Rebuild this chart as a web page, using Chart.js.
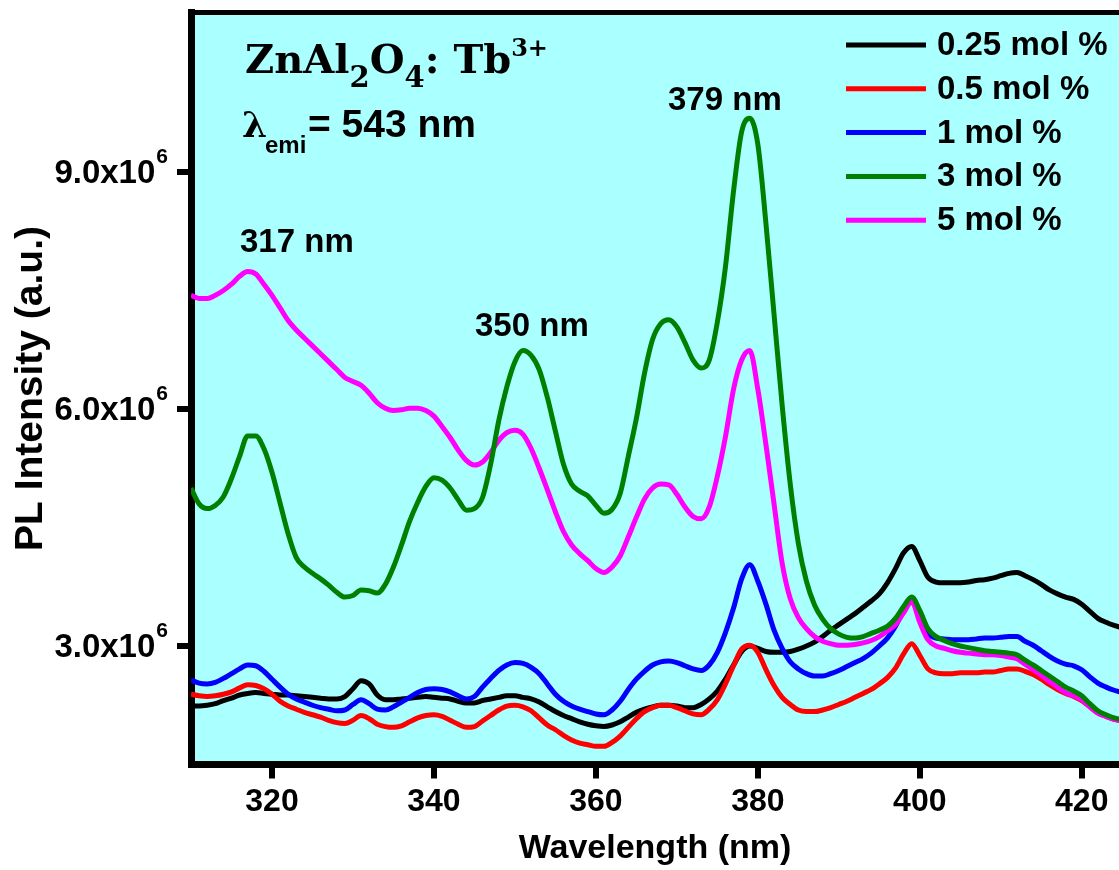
<!DOCTYPE html>
<html>
<head>
<meta charset="utf-8">
<script src="https://cdn.jsdelivr.net/npm/chart.js@4.4.0/dist/chart.umd.min.js"></script>
<style>
  html, body { margin: 0; padding: 0; background: #fff; }
</style>
</head>
<body>
<canvas id="pl-chart" width="1119" height="870"></canvas>
<script>
// PL excitation spectra, ZnAl2O4:Tb3+ (values in units of 1e6 a.u.)

const wavelength = [
  310, 311, 312, 313, 314, 315, 316, 317, 318, 319,
  320, 321, 322, 323, 324, 325, 326, 327, 328, 329,
  330, 331, 332, 333, 334, 335, 336, 337, 338, 339,
  340, 341, 342, 343, 344, 345, 346, 347, 348, 349,
  350, 351, 352, 353, 354, 355, 356, 357, 358, 359,
  360, 361, 362, 363, 364, 365, 366, 367, 368, 369,
  370, 371, 372, 373, 374, 375, 376, 377, 378, 379,
  380, 381, 382, 383, 384, 385, 386, 387, 388, 389,
  390, 391, 392, 393, 394, 395, 396, 397, 398, 399,
  400, 401, 402, 403, 404, 405, 406, 407, 408, 409,
  410, 411, 412, 413, 414, 415, 416, 417, 418, 419,
  420, 421, 422, 423, 424, 425
];

const mol025 = [
  2.24, 2.24, 2.25, 2.27, 2.31, 2.34, 2.38, 2.40, 2.41, 2.40,
  2.39, 2.38, 2.38, 2.37, 2.36, 2.35, 2.34, 2.33, 2.33, 2.36,
  2.46, 2.56, 2.52, 2.38, 2.32, 2.32, 2.33, 2.34, 2.35, 2.36,
  2.35, 2.34, 2.33, 2.30, 2.28, 2.28, 2.31, 2.33, 2.35, 2.37,
  2.37, 2.35, 2.33, 2.29, 2.23, 2.17, 2.12, 2.08, 2.04, 2.01,
  1.99, 1.98, 2.00, 2.04, 2.10, 2.16, 2.20, 2.23, 2.25, 2.25,
  2.24, 2.22, 2.22, 2.26, 2.33, 2.43, 2.58, 2.76, 2.93, 3.00,
  2.97, 2.93, 2.92, 2.92, 2.93, 2.96, 3.00, 3.05, 3.12, 3.20,
  3.27, 3.34, 3.41, 3.49, 3.57, 3.66, 3.80, 3.98, 4.18, 4.26,
  4.08, 3.87, 3.81, 3.80, 3.80, 3.80, 3.81, 3.83, 3.84, 3.86,
  3.89, 3.92, 3.93, 3.89, 3.84, 3.78, 3.71, 3.66, 3.62, 3.59,
  3.53, 3.44, 3.35, 3.30, 3.26, 3.23
];

const mol05 = [
  2.39, 2.37, 2.36, 2.37, 2.39, 2.42, 2.47, 2.51, 2.50, 2.46,
  2.39, 2.30, 2.24, 2.20, 2.16, 2.13, 2.10, 2.06, 2.03, 2.02,
  2.06, 2.12, 2.08, 2.01, 1.98, 1.97, 1.99, 2.04, 2.09, 2.12,
  2.13, 2.11, 2.06, 2.01, 1.97, 1.98, 2.05, 2.12, 2.19, 2.24,
  2.25, 2.23, 2.18, 2.09, 2.00, 1.94, 1.87, 1.81, 1.77, 1.75,
  1.73, 1.73, 1.78, 1.86, 1.97, 2.08, 2.17, 2.22, 2.25, 2.25,
  2.22, 2.18, 2.14, 2.13, 2.20, 2.32, 2.52, 2.75, 2.96, 3.01,
  2.92, 2.70, 2.50, 2.35, 2.26, 2.19, 2.17, 2.17, 2.19, 2.22,
  2.26, 2.30, 2.35, 2.40, 2.45, 2.52, 2.60, 2.72, 2.90, 3.03,
  2.88, 2.71, 2.66, 2.65, 2.65, 2.66, 2.66, 2.66, 2.67, 2.67,
  2.69, 2.71, 2.71, 2.68, 2.64, 2.58, 2.51, 2.45, 2.40, 2.36,
  2.31, 2.23, 2.15, 2.11, 2.07, 2.05
];

const mol1 = [
  2.57, 2.53, 2.52, 2.54, 2.59, 2.65, 2.71, 2.76, 2.75, 2.68,
  2.58, 2.48, 2.39, 2.33, 2.29, 2.25, 2.22, 2.20, 2.18, 2.19,
  2.26, 2.32, 2.27, 2.20, 2.19, 2.23, 2.29, 2.35, 2.41, 2.45,
  2.46, 2.45, 2.42, 2.37, 2.33, 2.36, 2.48, 2.59, 2.69, 2.76,
  2.79, 2.78, 2.73, 2.65, 2.52, 2.39, 2.30, 2.24, 2.20, 2.17,
  2.14, 2.13, 2.19, 2.30, 2.45, 2.58, 2.68, 2.76, 2.80, 2.81,
  2.79, 2.75, 2.71, 2.69, 2.76, 2.92, 3.17, 3.48, 3.85, 4.03,
  3.82, 3.53, 3.20, 2.97, 2.80, 2.71, 2.65, 2.62, 2.62, 2.65,
  2.69, 2.74, 2.79, 2.84, 2.91, 3.00, 3.10, 3.25, 3.45, 3.56,
  3.35, 3.16, 3.10, 3.09, 3.08, 3.08, 3.08, 3.09, 3.10, 3.10,
  3.11, 3.12, 3.12, 3.06, 3.01, 2.94, 2.87, 2.81, 2.77, 2.75,
  2.70, 2.61, 2.53, 2.48, 2.44, 2.41
];

const mol3 = [
  5.00, 4.80, 4.74, 4.78, 4.89, 5.12, 5.40, 5.66, 5.66, 5.50,
  5.20, 4.81, 4.42, 4.12, 4.00, 3.92, 3.85, 3.77, 3.68, 3.62,
  3.64, 3.71, 3.70, 3.67, 3.78, 4.00, 4.28, 4.58, 4.82, 5.02,
  5.13, 5.10, 5.00, 4.85, 4.72, 4.74, 4.88, 5.30, 5.85, 6.28,
  6.60, 6.74, 6.68, 6.50, 6.15, 5.72, 5.30, 5.05, 4.96, 4.90,
  4.78, 4.68, 4.73, 4.93, 5.40, 5.88, 6.45, 6.88, 7.08, 7.13,
  7.04, 6.84, 6.62, 6.52, 6.62, 7.10, 7.80, 8.76, 9.51, 9.68,
  9.35, 8.35, 7.20, 6.05, 5.05, 4.30, 3.82, 3.52, 3.34, 3.22,
  3.15, 3.11, 3.10, 3.12, 3.16, 3.20, 3.25, 3.35, 3.50, 3.62,
  3.45, 3.22, 3.12, 3.07, 3.03, 3.00, 2.98, 2.96, 2.94, 2.93,
  2.92, 2.91, 2.89, 2.82, 2.76, 2.69, 2.62, 2.55, 2.48, 2.43,
  2.37, 2.27, 2.18, 2.13, 2.09, 2.07
];

const mol5 = [
  7.44, 7.40, 7.40, 7.44, 7.50, 7.58, 7.68, 7.74, 7.71, 7.58,
  7.44, 7.28, 7.12, 7.00, 6.90, 6.80, 6.70, 6.60, 6.50, 6.40,
  6.35, 6.30, 6.20, 6.08, 6.01, 5.98, 5.99, 6.01, 6.01, 5.98,
  5.91, 5.78, 5.64, 5.48, 5.35, 5.29, 5.33, 5.45, 5.60, 5.70,
  5.73, 5.68, 5.50, 5.25, 4.98, 4.70, 4.45, 4.28, 4.17, 4.08,
  3.98, 3.93, 4.00, 4.14, 4.38, 4.63, 4.86, 5.00, 5.05, 5.04,
  4.92, 4.76, 4.64, 4.61, 4.76, 5.15, 5.65, 6.25, 6.62, 6.74,
  6.25, 5.55, 4.80, 4.05, 3.60, 3.36, 3.22, 3.12, 3.06, 3.03,
  3.01, 3.01, 3.02, 3.04, 3.07, 3.12, 3.19, 3.27, 3.42, 3.56,
  3.30, 3.08, 3.00, 2.97, 2.94, 2.92, 2.91, 2.90, 2.89, 2.89,
  2.88, 2.86, 2.84, 2.77, 2.70, 2.63, 2.55, 2.48, 2.41, 2.37,
  2.32, 2.23, 2.15, 2.11, 2.07, 2.05
];

const seriesLabels = ['0.25 mol %', '0.5 mol %', '1 mol %', '3 mol %', '5 mol %'];
const seriesColors = ['#000000', '#ff0000', '#0000ff', '#008000', '#ff00ff'];
const drawOrder = [4, 3, 2, 0, 1];   // lower = drawn on top

const xTicks = [320, 340, 360, 380, 400, 420];
const yTicks = [3, 6, 9];
const yTickLabels = ['3.0x10', '6.0x10', '9.0x10'];
const yTickExp = '6';

const peakLabels = ['317 nm', '350 nm', '379 nm'];

const SANS = "'Liberation Sans', Arial, sans-serif";
const SERIF = "'DejaVu Serif', 'Liberation Serif', serif";
const PLOT_BG = '#aaffff';

const allSeries = [mol025, mol05, mol1, mol3, mol5];

const datasets = allSeries.map((vals, i) => ({
  label: seriesLabels[i],
  data: wavelength.map((w, j) => ({ x: w, y: vals[j] })),
  borderColor: seriesColors[i],
  borderWidth: 5,
  pointRadius: 0,
  cubicInterpolationMode: 'monotone',
  fill: false,
  order: drawOrder[i],
}));

// cyan plot background
const plotBackground = {
  id: 'plotBackground',
  beforeDraw(chart) {
    const { ctx, chartArea: a } = chart;
    ctx.save();
    ctx.fillStyle = PLOT_BG;
    ctx.fillRect(a.left, a.top, a.right - a.left, a.bottom - a.top);
    ctx.restore();
  }
};

// y tick labels with a real superscript, legend, formula and peak labels
const annotations = {
  id: 'annotations',
  afterDraw(chart) {
    const { ctx } = chart;
    const yScale = chart.scales.y;
    ctx.save();
    ctx.fillStyle = '#000';
    ctx.textBaseline = 'alphabetic';

    // y tick labels: "9.0x10" + superscript 6
    yTicks.forEach((v, i) => {
      const py = yScale.getPixelForValue(v);
      ctx.font = `bold 21px ${SANS}`;
      const expW = ctx.measureText(yTickExp).width;
      ctx.textAlign = 'right';
      ctx.fillText(yTickExp, 168, py - 9);
      ctx.font = `bold 33px ${SANS}`;
      ctx.fillText(yTickLabels[i], 168 - expW - 1, py + 11);
    });
    ctx.textAlign = 'left';

    // ZnAl2O4: Tb3+
    let x = 245;
    const parts = [
      ['ZnAl', 40, 0], ['2', 29, 14], ['O', 40, 0], ['4', 29, 14],
      [': Tb', 40, 0], ['3+', 24, -17]
    ];
    parts.forEach(([t, size, dy]) => {
      ctx.font = `bold ${size}px ${SERIF}`;
      ctx.fillText(t, x, 73 + dy);
      x += ctx.measureText(t).width;
    });

    // lambda_emi = 543 nm
    ctx.font = `bold 36px ${SERIF}`;
    ctx.fillText('\u03bb', 242, 137);
    ctx.font = `bold 24px ${SANS}`;
    ctx.fillText('emi', 265, 153);
    ctx.font = `bold 39px ${SANS}`;
    ctx.fillText('= 543 nm', 308, 137);

    // peak labels
    const peakPos = [[240, 252], [475, 336], [668, 110]];
    ctx.font = `bold 33px ${SANS}`;
    peakLabels.forEach((t, i) => ctx.fillText(t, peakPos[i][0], peakPos[i][1]));

    // legend
    ctx.textBaseline = 'middle';
    ctx.font = `bold 33px ${SANS}`;
    chart.data.datasets.forEach((ds, i) => {
      const y = 45 + i * 43.8;
      ctx.strokeStyle = ds.borderColor;
      ctx.lineWidth = 5;
      ctx.beginPath();
      ctx.moveTo(846, y);
      ctx.lineTo(926, y);
      ctx.stroke();
      ctx.fillStyle = '#000';
      ctx.fillText(ds.label, 937, y + 1);
    });
    ctx.restore();
  }
};

const tickFont = { family: SANS, size: 32, weight: 'bold' };
const axisGrid = { drawOnChartArea: false, drawTicks: true, tickLength: 14, lineWidth: 6, color: '#000' };

new Chart(document.getElementById('pl-chart'), {
  type: 'line',
  data: { datasets },
  options: {
    responsive: false,
    devicePixelRatio: 1,
    animation: false,
    layout: { padding: { top: 12.5, right: 0, bottom: 0, left: 0 } },
    plugins: {
      legend: { display: false },
      tooltip: { enabled: false }
    },
    scales: {
      x: {
        type: 'linear',
        position: 'bottom',
        min: 310,
        max: 424.6,
        afterBuildTicks: s => { s.ticks = xTicks.map(v => ({ value: v })); },
        afterFit: s => { s.height = 105.5; s.paddingLeft = 0; s.paddingRight = 0; },
        border: { display: true, color: '#000', width: 7 },
        grid: axisGrid,
        ticks: { color: '#000', font: tickFont, padding: 4, maxRotation: 0 },
        title: {
          display: true, text: 'Wavelength (nm)', color: '#000',
          font: { family: SANS, size: 34, weight: 'bold' }, padding: { top: 0, bottom: 1 }
        }
      },
      xTop: {
        type: 'linear',
        position: 'top',
        min: 310,
        max: 424.6,
        afterBuildTicks: s => { s.ticks = []; },
        afterFit: s => { s.height = 0; s.paddingLeft = 0; s.paddingRight = 0; },
        border: { display: true, color: '#000', width: 5 },
        grid: { drawOnChartArea: false, drawTicks: false },
        ticks: { display: false }
      },
      y: {
        type: 'linear',
        min: 1.5,
        max: 11.02,
        afterBuildTicks: s => { s.ticks = yTicks.map(v => ({ value: v })); },
        afterFit: s => { s.width = 191; s.paddingTop = 0; s.paddingBottom = 0; },
        border: { display: true, color: '#000', width: 7 },
        grid: axisGrid,
        ticks: { display: false },
        title: {
          display: true, text: 'PL Intensity (a.u.)', color: '#000',
          font: { family: SANS, size: 39, weight: 'bold' }, padding: { top: 8, bottom: 0 }
        }
      }
    }
  },
  plugins: [plotBackground, annotations]
});
</script>
</body>
</html>
